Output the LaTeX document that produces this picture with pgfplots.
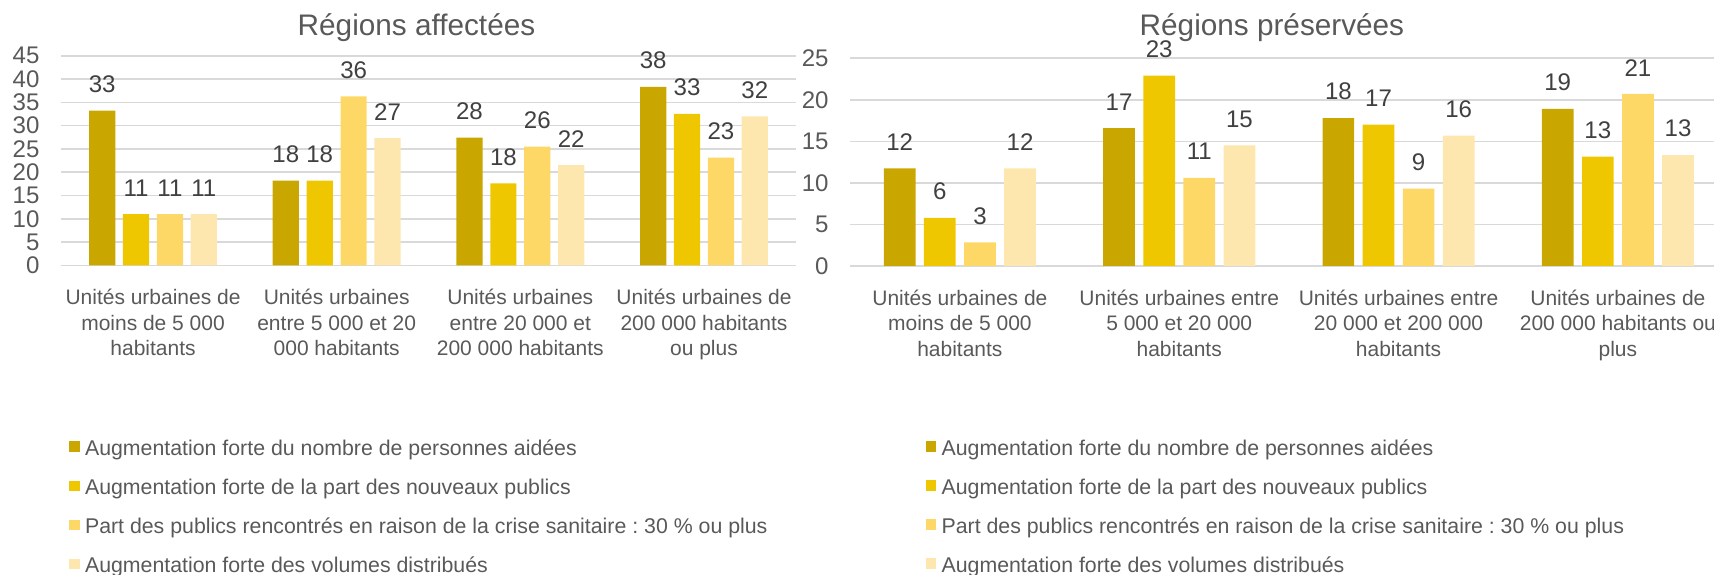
\documentclass[border=0pt]{standalone}
\usepackage{fontspec}
\setmainfont{Liberation Sans}
\usepackage{pgfplots}
\usepackage{pgfplotstable}
\pgfplotsset{compat=1.18}
\frenchspacing
\definecolor{cA}{HTML}{C9A700}
\definecolor{cB}{HTML}{EFC700}
\definecolor{cC}{HTML}{FDD866}
\definecolor{cD}{HTML}{FDE7AE}
\definecolor{txt}{HTML}{595959}
\definecolor{lab}{HTML}{404040}
\definecolor{gridc}{HTML}{D9D9D9}
\newcommand\fCat{\fontsize{9.6}{11.75}\selectfont}
\newcommand\fLeg{\fontsize{9.75}{11.75}\selectfont}
\newcommand\fTick{\fontsize{11}{13}\selectfont}
\newcommand\fTitle{\fontsize{13.6}{16}\selectfont}

% Régions affectées
\pgfplotstableread{
x y l
0 33.2 33
1 18.2 18
2 27.4 28
3 38.3 38
}\LA
\pgfplotstableread{
x y l
0 11.0 11
1 18.2 18
2 17.6 18
3 32.5 33
}\LB
\pgfplotstableread{
x y l
0 11.0 11
1 36.3 36
2 25.5 26
3 23.1 23
}\LC
\pgfplotstableread{
x y l
0 11.0 11
1 27.3 27
2 21.5 22
3 32.0 32
}\LD
% Régions préservées
\pgfplotstableread{
x y l
0 11.75 12
1 16.6 17
2 17.8 18
3 18.9 19
}\RA
\pgfplotstableread{
x y l
0 5.8 6
1 22.9 23
2 17.0 17
3 13.15 13
}\RB
\pgfplotstableread{
x y l
0 2.85 3
1 10.6 11
2 9.3 9
3 20.7 21
}\RC
\pgfplotstableread{
x y l
0 11.75 12
1 14.5 15
2 15.7 16
3 13.35 13
}\RD

\pgfplotsset{
  sq/.style={legend image code/.code={\fill[##1] (0pt,-0.9pt) rectangle (4.8pt,3.9pt);}},
  common/.style={
    ybar, scale only axis, xmin=-0.5, xmax=3.5, ymin=0,
    enlargelimits=false, clip=false,
    axis line style={draw=none}, major tick length=0pt,
    ymajorgrids, grid style={gridc, line width=0.7pt},
    xtick={0,1,2,3},
    xticklabel style={align=center, font=\fCat, text=txt, yshift=-7.3pt},
    yticklabel style={font=\fTick, text=txt, xshift=-6.4pt},
    /pgf/number format/assume math mode=true,
    point meta=explicit symbolic,
    nodes near coords,
    nodes near coords style={font=\fTick, text=lab, inner sep=0pt, anchor=south, yshift=8pt},
    legend style={anchor=north west, draw=none, fill=none, inner sep=0pt, outer sep=0pt,
      font=\fLeg, text=txt, row sep=8.95pt,
      nodes={inner sep=0pt, text height=6.9pt, text depth=2pt},
      /tikz/every odd column/.append style={column sep=2.4pt}},
    legend cell align=left,
    title style={font=\fTitle, text=txt, anchor=base, at={(0.5,1)}},
  }
}

\begin{document}
\begin{tikzpicture}
\begin{axis}[common,
  at={(28pt,141.65pt)}, anchor=south west,
  width=336pt, height=95.85pt, ymax=45, ytick distance=5,
  bar width=12pt, ybar=3.5pt,
  title={Régions affectées}, title style={yshift=3.25pt, xshift=-5.5pt},
  xticklabels={{Unités urbaines de\\moins de 5 000\\habitants},
               {Unités urbaines\\entre 5 000 et 20\\000 habitants},
               {Unités urbaines\\entre 20 000 et\\200 000 habitants},
               {Unités urbaines de\\200 000 habitants\\ou plus}},
  legend style={at={(0.011,-0.835)}},
]
\addplot[fill=cA, draw=none, sq] table[x=x, y=y, meta=l] {\LA};
\addplot[fill=cB, draw=none, sq] table[x=x, y=y, meta=l] {\LB};
\addplot[fill=cC, draw=none, sq] table[x=x, y=y, meta=l] {\LC};
\addplot[fill=cD, draw=none, sq] table[x=x, y=y, meta=l] {\LD};
\legend{Augmentation forte du nombre de personnes aidées,
        Augmentation forte de la part des nouveaux publics,
        Part des publics rencontrés en raison de la crise sanitaire : 30 \% ou plus,
        Augmentation forte des volumes distribués}
\end{axis}

\begin{axis}[common,
  at={(388.9pt,141.35pt)}, anchor=south west,
  width=401.3pt, height=95pt, ymax=25, ytick distance=5,
  bar width=14.5pt, ybar=3.85pt,
  title={Régions préservées}, title style={yshift=4.45pt, xshift=-7.75pt},
  xticklabels={{Unités urbaines de\\moins de 5 000\\habitants},
               {Unités urbaines entre\\5 000 et 20 000\\habitants},
               {Unités urbaines entre\\20 000 et 200 000\\habitants},
               {Unités urbaines de\\200 000 habitants ou\\plus}},
  legend style={at={(0.0862,-0.839)}},
]
\addplot[fill=cA, draw=none, sq] table[x=x, y=y, meta=l] {\RA};
\addplot[fill=cB, draw=none, sq] table[x=x, y=y, meta=l] {\RB};
\addplot[fill=cC, draw=none, sq] table[x=x, y=y, meta=l] {\RC};
\addplot[fill=cD, draw=none, sq] table[x=x, y=y, meta=l] {\RD};
\legend{Augmentation forte du nombre de personnes aidées,
        Augmentation forte de la part des nouveaux publics,
        Part des publics rencontrés en raison de la crise sanitaire : 30 \% ou plus,
        Augmentation forte des volumes distribués}
\end{axis}
\pgfresetboundingbox
\path[use as bounding box] (0,0) rectangle (784pt,263pt);
\end{tikzpicture}
\end{document}
